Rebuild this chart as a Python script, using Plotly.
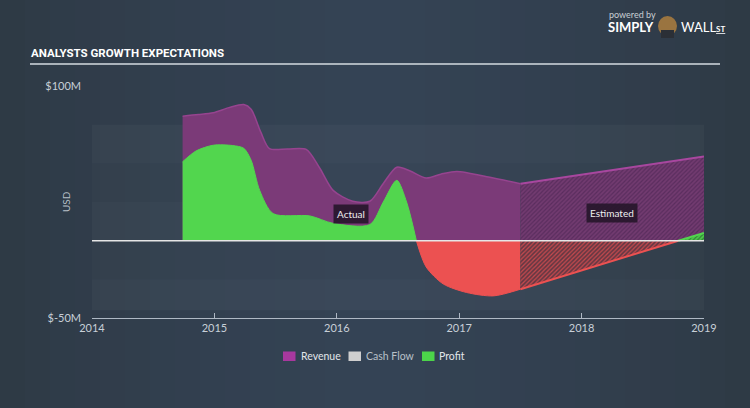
import plotly.graph_objects as go

# ---------------- data (USD millions) ----------------
rev_act_x = [2014.74, 2014.87, 2014.99, 2015.12, 2015.24, 2015.30, 2015.38, 2015.45, 2015.60, 2015.75,
             2015.86, 2015.97, 2016.13, 2016.27, 2016.38, 2016.49, 2016.60, 2016.73, 2016.85, 2016.98,
             2017.25, 2017.5]
rev_act_y = [80.5, 81.5, 82.7, 86.0, 88.0, 85.0, 70.0, 59.5, 59.3, 59.0,
             47.0, 32.5, 25.5, 25.5, 37.0, 47.5, 45.0, 40.5, 43.0, 44.8,
             41.0, 36.8]
rev_est_x = [2017.5, 2019.0]
rev_est_y = [36.8, 54.5]

profit_act_pos_x = [2014.74, 2014.85, 2014.99, 2015.15, 2015.24, 2015.30, 2015.37, 2015.48, 2015.78,
                    2015.97, 2016.27, 2016.38, 2016.49, 2016.57, 2016.65]
profit_act_pos_y = [51.0, 58.0, 61.7, 61.5, 59.7, 52.0, 32.5, 17.5, 16.0,
                    11.2, 10.4, 25.0, 39.0, 25.0, 0.0]
profit_act_neg_x = [2016.65, 2016.73, 2016.87, 2017.06, 2017.28, 2017.5]
profit_act_neg_y = [0.0, -17.0, -28.0, -33.5, -35.7, -31.4]
profit_est_neg_x = [2017.5, 2018.79]
profit_est_neg_y = [-31.4, 0.0]
profit_est_pos_x = [2018.79, 2019.0]
profit_est_pos_y = [0.0, 5.0]

years = [2014, 2015, 2016, 2017, 2018, 2019]
year_labels = ["2014", "2015", "2016", "2017", "2018", "2019"]
y_ticks = [-50, 100]
y_tick_labels = ["$-50M", "$100M"]
legend_names = ["Revenue", "Cash Flow", "Profit"]
legend_colors = ["#a8389e", "#cfcfcf", "#4cd44a"]

# ---------------- geometry helpers ----------------
W, H = 750, 408
ML, MR, MT, MB = 92, 46, 86, 90
PW, PH = W - ML - MR, H - MT - MB


def px(p):
    return (p - ML) / PW


def py(q):
    return (H - MB - q) / PH


PURPLE = "#7b3a78"
PURPLE_LINE = "#96448f"
GREEN = "#52d64e"
RED = "#ec5151"

fig = go.Figure()

# revenue actual
fig.add_trace(go.Scatter(x=rev_act_x, y=rev_act_y, mode="lines", fill="tozeroy",
                         fillcolor=PURPLE, line=dict(color=PURPLE_LINE, width=1.5, shape="spline", smoothing=0.8),
                         showlegend=False, hoverinfo="skip"))
# revenue estimated (hatched)
fig.add_trace(go.Scatter(x=rev_est_x, y=rev_est_y, mode="lines", fill="tozeroy",
                         fillpattern=dict(shape="/", fgcolor="#5a2d5e", bgcolor="#723b70",
                                          size=3, solidity=0.4, fillmode="replace"),
                         line=dict(color="#a8479f", width=2),
                         showlegend=False, hoverinfo="skip"))
# profit actual positive
fig.add_trace(go.Scatter(x=profit_act_pos_x, y=profit_act_pos_y, mode="lines", fill="tozeroy",
                         fillcolor=GREEN, line=dict(color=GREEN, width=1, shape="spline", smoothing=0.8),
                         showlegend=False, hoverinfo="skip"))
# profit actual negative
fig.add_trace(go.Scatter(x=profit_act_neg_x, y=profit_act_neg_y, mode="lines", fill="tozeroy",
                         fillcolor=RED, line=dict(color=RED, width=1, shape="spline", smoothing=0.8),
                         showlegend=False, hoverinfo="skip"))
# profit estimated negative (hatched)
fig.add_trace(go.Scatter(x=profit_est_neg_x, y=profit_est_neg_y, mode="lines", fill="tozeroy",
                         fillpattern=dict(shape="/", fgcolor="#c84a4e", bgcolor="#653843",
                                          size=3, solidity=0.4, fillmode="replace"),
                         line=dict(color=RED, width=2),
                         showlegend=False, hoverinfo="skip"))
# profit estimated positive (hatched)
fig.add_trace(go.Scatter(x=profit_est_pos_x, y=profit_est_pos_y, mode="lines", fill="tozeroy",
                         fillpattern=dict(shape="/", fgcolor="#2f7a34", bgcolor="#4cc84a",
                                          size=3, solidity=0.35, fillmode="replace"),
                         line=dict(color=GREEN, width=2),
                         showlegend=False, hoverinfo="skip"))

shapes = []
# background gradient (darker at edges)
n = 30
edge = (46, 57, 68)
center = (53, 68, 86)
for i in range(n):
    t = (i + 0.5) / n
    k = 1 - abs(t - 0.5) * 2
    k = k ** 0.7
    c = tuple(int(edge[j] + (center[j] - edge[j]) * k) for j in range(3))
    x0 = px(W * i / n)
    x1 = px(W * (i + 1) / n + 1)
    shapes.append(dict(type="rect", xref="paper", yref="paper", x0=x0, x1=x1, y0=py(H), y1=py(0),
                       fillcolor="rgb(%d,%d,%d)" % c, line=dict(width=0), layer="below"))
# faint horizontal bands in the plot area
bands = [(50, 75, 0.03), (25, 50, 0.015), (0, 25, 0.03), (-25, 0, 0.015), (-45, -25, 0.03)]
for y0, y1, a in bands:
    shapes.append(dict(type="rect", xref="x", yref="y", x0=2014, x1=2019, y0=y0, y1=y1,
                       fillcolor="rgba(255,255,255,%.3f)" % a, line=dict(width=0), layer="below"))
# zero line
shapes.append(dict(type="line", xref="x", yref="y", x0=2014, x1=2019, y0=0, y1=0,
                   line=dict(color="#e6e6e6", width=1.5), layer="above"))
# title underline
shapes.append(dict(type="line", xref="paper", yref="paper", x0=px(30), x1=px(720), y0=py(64), y1=py(64),
                   line=dict(color="#d5dbe1", width=1.5)))
# legend squares
leg_sq_x = [283, 348.5, 422]
for lx, col in zip(leg_sq_x, legend_colors):
    shapes.append(dict(type="rect", xref="paper", yref="paper", x0=px(lx), x1=px(lx + 12.5),
                       y0=py(361), y1=py(351.5), fillcolor=col, line=dict(width=0)))
# mascot placeholder in logo
shapes.append(dict(type="circle", xref="paper", yref="paper", x0=px(658), x1=px(677), y0=py(36), y1=py(16),
                   fillcolor="#9a7440", line=dict(width=0)))
shapes.append(dict(type="rect", xref="paper", yref="paper", x0=px(661), x1=px(674), y0=py(38), y1=py(30),
                   fillcolor="#2b2f36", line=dict(width=0)))

annotations = []
annotations.append(dict(text="<b>ANALYSTS GROWTH EXPECTATIONS</b>", xref="paper", yref="paper",
                        x=px(29), y=py(53), xanchor="left", yanchor="middle", showarrow=False,
                        font=dict(family="Roboto, sans-serif", size=11.5, color="#ffffff")))
annotations.append(dict(text="USD", xref="paper", yref="paper", x=px(66), y=py(202), textangle=-90,
                        xanchor="center", yanchor="middle", showarrow=False,
                        font=dict(family="Lato, sans-serif", size=10, color="#b8c0c8")))
annotations.append(dict(text="Actual", x=2016.12, y=17.3, xref="x", yref="y", showarrow=False,
                        bgcolor="rgba(38,22,42,0.9)", borderpad=3,
                        font=dict(family="Lato, sans-serif", size=10, color="#eeeeee")))
annotations.append(dict(text="Estimated", x=2018.25, y=17.6, xref="x", yref="y", showarrow=False,
                        bgcolor="rgba(38,22,42,0.9)", borderpad=3,
                        font=dict(family="Lato, sans-serif", size=10, color="#eeeeee")))
# legend texts
leg_txt_x = [299, 364, 437]
for tx, name in zip(leg_txt_x, legend_names):
    annotations.append(dict(text=name, xref="paper", yref="paper", x=px(tx), y=py(356),
                            xanchor="left", yanchor="middle", showarrow=False,
                            font=dict(family="Lato, sans-serif", size=10.5,
                                      color="#e2e6ea" if name != "Cash Flow" else "#b8c0c8")))
# logo texts
annotations.append(dict(text="powered by", xref="paper", yref="paper", x=px(607), y=py(14),
                        xanchor="left", yanchor="middle", showarrow=False,
                        font=dict(family="Lato, sans-serif", size=9, color="#c8ced4")))
annotations.append(dict(text="<b>SIMPLY</b>", xref="paper", yref="paper", x=px(606), y=py(27),
                        xanchor="left", yanchor="middle", showarrow=False,
                        font=dict(family="Lato, sans-serif", size=13, color="#ffffff")))
annotations.append(dict(text="WALL<span style='font-size:8px'><b><u>ST</u></b></span>", xref="paper", yref="paper",
                        x=px(679), y=py(27), xanchor="left", yanchor="middle", showarrow=False,
                        font=dict(family="Lato, sans-serif", size=13, color="#ffffff")))

fig.update_layout(
    width=W, height=H, autosize=False,
    margin=dict(l=ML, r=MR, t=MT, b=MB, pad=0),
    paper_bgcolor="#323f4e", plot_bgcolor="rgba(0,0,0,0)",
    showlegend=False,
    shapes=shapes, annotations=annotations,
    xaxis=dict(range=[2014, 2019], tickvals=years, ticktext=year_labels,
               showgrid=False, zeroline=False, showline=True, linecolor="#aeb8c4", linewidth=1,
               ticks="inside", ticklen=5, tickcolor="#aeb8c4", tickwidth=1,
               tickfont=dict(family="Lato, sans-serif", size=11, color="#c8d0d8")),
    yaxis=dict(range=[-50, 100], tickvals=y_ticks, ticktext=y_tick_labels,
               showgrid=False, zeroline=False, showline=False, ticks="",
               ticklabelstandoff=10,
               tickfont=dict(family="Lato, sans-serif", size=11, color="#c8d0d8")),
    hovermode=False,
)

fig.write_html("out.html")
